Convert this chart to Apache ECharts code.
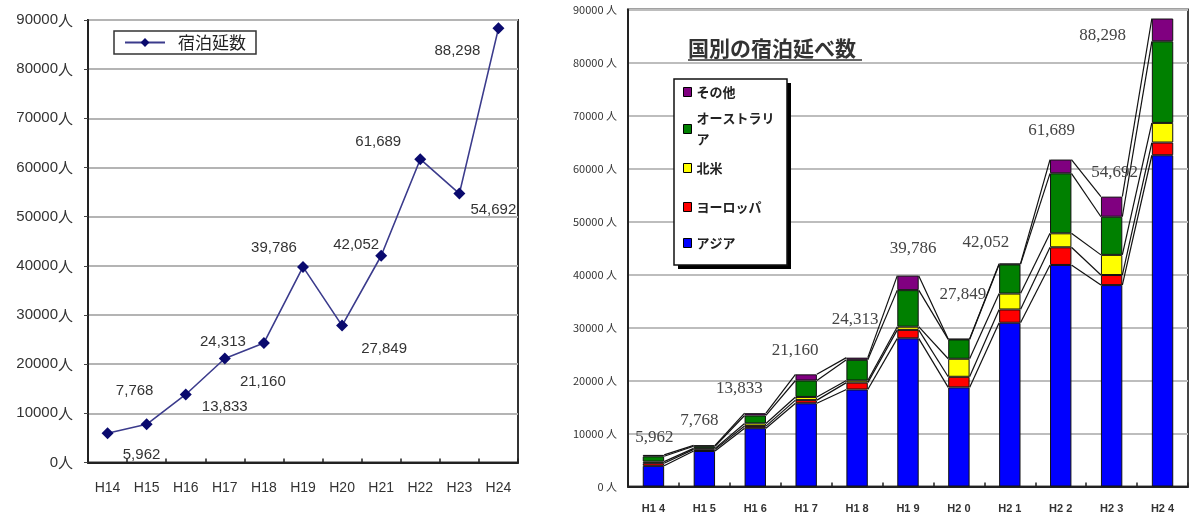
<!DOCTYPE html>
<html>
<head>
<meta charset="utf-8">
<script src="https://cdn.jsdelivr.net/npm/echarts@6/dist/echarts.min.js"></script>
<style>
html,body{margin:0;padding:0;background:#fff;}
#c{width:1190px;height:515px;}
</style>
</head>
<body>
<div id="c"></div>
<script>
// ---- data ----
var CATEGORIES = ['H14','H15','H16','H17','H18','H19','H20','H21','H22','H23','H24'];
var TOTALS     = [5962, 7768, 13833, 21160, 24313, 39786, 27849, 42052, 61689, 54692, 88298];
var ASIA       = [3900, 6700, 11000, 15700, 18300, 27950, 18700, 30900, 41800, 38000, 62500];
var EUROPE     = [500, 300, 400, 600, 1300, 1600, 2000, 2500, 3330, 1900, 2400];
var N_AMERICA  = [300, 200, 500, 600, 400, 600, 3400, 3000, 2640, 3800, 3700];
var AUSTRALIA  = [1000, 400, 1500, 3100, 3900, 6900, 3649, 5500, 11320, 7200, 15400];
var OTHER      = [262, 168, 433, 1160, 413, 2736, 100, 152, 2599, 3792, 4298];
var Y_TICKS    = [0, 10000, 20000, 30000, 40000, 50000, 60000, 70000, 80000, 90000];

// ---- label placement (styling only) ----
var LEFT_LABEL_OFFSETS  = [[34,22],[-12,-33],[39,12],[38,23],[-41,-1],[-29,-19],[42,23],[-25,-11],[-42,-17],[34,16],[-41,22]];
var RIGHT_LABEL_OFFSETS = [[1,-17],[-5,-25],[-16,-25],[-11,-24],[-2,-38],[5,-27],[4,-44],[-24,-21],[-9,-29],[3,-24],[-60,17]];

var fmt = function(v){ return String(v).replace(/\B(?=(\d{3})+(?!\d))/g, ','); };

var LAYERS = [ASIA, EUROPE, N_AMERICA, AUSTRALIA, OTHER];
var CUM = [];
(function(){
  var run = CATEGORIES.map(function(){return 0;});
  LAYERS.forEach(function(arr){
    run = run.map(function(r,i){ return r + arr[i]; });
    CUM.push(run.slice());
  });
})();

var BAR_RATIO = 0.42;
var JP = '"Noto Sans CJK JP", sans-serif';

var chart = echarts.init(document.getElementById('c'), null, {renderer:'canvas'});

var legendCommon = {
  orient:'vertical', left:683, padding:0, itemWidth:8, itemHeight:9, icon:'rect',
  selectedMode:false, z:6,
  textStyle:{fontFamily:JP, fontSize:13, fontWeight:'bold', color:'#222', lineHeight:14},
  itemStyle:{borderColor:'#000', borderWidth:1}
};
function mk(o){ var r={}; for(var k in legendCommon) r[k]=legendCommon[k]; for(var k2 in o) r[k2]=o[k2]; return r; }

var option = {
  backgroundColor:'#fff',
  animation:false,
  title:{
    text:'国別の宿泊延べ数', left:688, top:38, padding:0,
    textStyle:{fontFamily:JP, fontSize:21, fontWeight:'bold', color:'#333'}
  },
  graphic:[
    {type:'line', z:5, shape:{x1:688,y1:60,x2:862,y2:60}, style:{stroke:'#333', lineWidth:1.5}},
    {type:'rect', z:4, shape:{x:678,y:83,width:113,height:186}, style:{fill:'#000'}},
    {type:'rect', z:4, shape:{x:674,y:79,width:113,height:186}, style:{fill:'#fff', stroke:'#111', lineWidth:1.5}}
  ],
  legend:[
    {
      data:['宿泊延数'], left:114, top:31, orient:'horizontal',
      padding:[3,10,3,10], itemWidth:40, itemHeight:11, itemGap:10, selectedMode:false,
      borderColor:'#333', borderWidth:1.5, backgroundColor:'#fff',
      textStyle:{fontFamily:JP, fontSize:17, color:'#222', padding:[0,0,0,8]}
    },
    mk({data:['その他'], top:85}),
    mk({data:['オーストラリア'], top:97.5, formatter:function(){return 'オーストラリ\nア';},
        textStyle:{fontFamily:JP, fontSize:13, fontWeight:'bold', color:'#222', lineHeight:21, padding:[21,0,0,0]}}),
    mk({data:['北米'], top:161}),
    mk({data:['ヨーロッパ'], top:200}),
    mk({data:['アジア'], top:236})
  ],
  grid:[
    {left:88, top:20, width:430, height:442.5, show:true, borderColor:'#333', borderWidth:2, backgroundColor:'transparent'},
    {left:628, top:9.5, width:560, height:477, show:true, borderColor:'#444', borderWidth:2, backgroundColor:'transparent'}
  ],
  xAxis:[
    {type:'category', gridIndex:0, data:CATEGORIES, boundaryGap:true,
     axisLine:{lineStyle:{color:'#222', width:2}},
     axisTick:{show:true, inside:true, length:4, lineStyle:{color:'#222', width:1.5}},
     axisLabel:{margin:19, fontFamily:'"Liberation Sans", sans-serif', fontSize:14, color:'#333'}},
    {type:'category', gridIndex:1, data:CATEGORIES, boundaryGap:true,
     axisLine:{lineStyle:{color:'#222', width:2}},
     axisTick:{show:true, inside:true, length:4, lineStyle:{color:'#222', width:1.5}},
     axisLabel:{margin:17, fontFamily:'"Liberation Sans", sans-serif', fontSize:11, fontWeight:'bold', color:'#333',
       formatter:function(v){ return v.charAt(0)+v.charAt(1)+' '+v.charAt(2); }}}
  ],
  yAxis:[
    {type:'value', gridIndex:0, min:Y_TICKS[0], max:Y_TICKS[Y_TICKS.length-1], interval:Y_TICKS[1]-Y_TICKS[0],
     axisLine:{show:true, lineStyle:{color:'#222', width:2}},
     axisTick:{show:true, length:4, lineStyle:{color:'#444'}},
     splitLine:{lineStyle:{color:'#b4b4b4', width:2}},
     axisLabel:{margin:15, fontFamily:'"Liberation Sans", sans-serif', fontSize:15, color:'#333',
       formatter:function(v){ return String(v)+'{j|人}'; },
       rich:{j:{fontFamily:JP, fontSize:15, color:'#333'}}}},
    {type:'value', gridIndex:1, min:Y_TICKS[0], max:Y_TICKS[Y_TICKS.length-1], interval:Y_TICKS[1]-Y_TICKS[0],
     axisLine:{show:true, lineStyle:{color:'#222', width:2}},
     axisTick:{show:false},
     splitLine:{lineStyle:{color:'#bdbdbd', width:2}},
     axisLabel:{margin:11, fontFamily:JP, fontSize:11, color:'#333',
       formatter:function(v){ return String(v)+' 人'; }}}
  ],
  series:[
    {
      name:'宿泊延数', type:'line', xAxisIndex:0, yAxisIndex:0,
      data: TOTALS.map(function(v,i){ return {value:v, label:{offset:LEFT_LABEL_OFFSETS[i]}}; }),
      symbol:'diamond', symbolSize:12,
      lineStyle:{color:'#3b3b8c', width:1.6},
      itemStyle:{color:'#0a0a6e'},
      label:{show:true, position:'inside', fontFamily:'"Liberation Sans", sans-serif', fontSize:15, color:'#333',
        formatter:function(p){ return fmt(p.value); }},
      z:5
    },
    {name:'アジア', type:'bar', stack:'c', xAxisIndex:1, yAxisIndex:1, data:ASIA, barWidth:(BAR_RATIO*100)+'%',
     itemStyle:{color:'#0000ff', borderColor:'#111', borderWidth:1}},
    {name:'ヨーロッパ', type:'bar', stack:'c', xAxisIndex:1, yAxisIndex:1, data:EUROPE,
     itemStyle:{color:'#ff0000', borderColor:'#111', borderWidth:1}},
    {name:'北米', type:'bar', stack:'c', xAxisIndex:1, yAxisIndex:1, data:N_AMERICA,
     itemStyle:{color:'#ffff00', borderColor:'#111', borderWidth:1}},
    {name:'オーストラリア', type:'bar', stack:'c', xAxisIndex:1, yAxisIndex:1, data:AUSTRALIA,
     itemStyle:{color:'#008000', borderColor:'#111', borderWidth:1}},
    {name:'その他', type:'bar', stack:'c', xAxisIndex:1, yAxisIndex:1,
     data: OTHER.map(function(v,i){ return {value:v, label:{offset:RIGHT_LABEL_OFFSETS[i]}}; }),
     itemStyle:{color:'#800080', borderColor:'#111', borderWidth:1},
     label:{show:true, position:'top', distance:0, verticalAlign:'middle', align:'center',
       fontFamily:'"Liberation Serif", serif', fontSize:17, color:'#444',
       formatter:function(p){ return fmt(TOTALS[p.dataIndex]); }}},
    {
      type:'custom', xAxisIndex:1, yAxisIndex:1, silent:true, clip:false, z:1,
      data: CATEGORIES.slice(0, CATEGORIES.length-1).map(function(c,i){ return [i, TOTALS[i]]; }),
      encode:{x:0, y:1},
      renderItem:function(params, api){
        var i = api.value(0);
        var hw = api.size([1,0])[0]*BAR_RATIO/2;
        var children = [];
        for (var k=0;k<CUM.length;k++){
          var p1 = api.coord([i, CUM[k][i]]);
          var p2 = api.coord([i+1, CUM[k][i+1]]);
          children.push({type:'line', shape:{x1:p1[0]+hw, y1:p1[1], x2:p2[0]-hw, y2:p2[1]},
            style:{stroke:'#111', lineWidth:1.2}});
        }
        return {type:'group', children:children};
      }
    }
  ]
};
chart.setOption(option);
</script>
</body>
</html>
